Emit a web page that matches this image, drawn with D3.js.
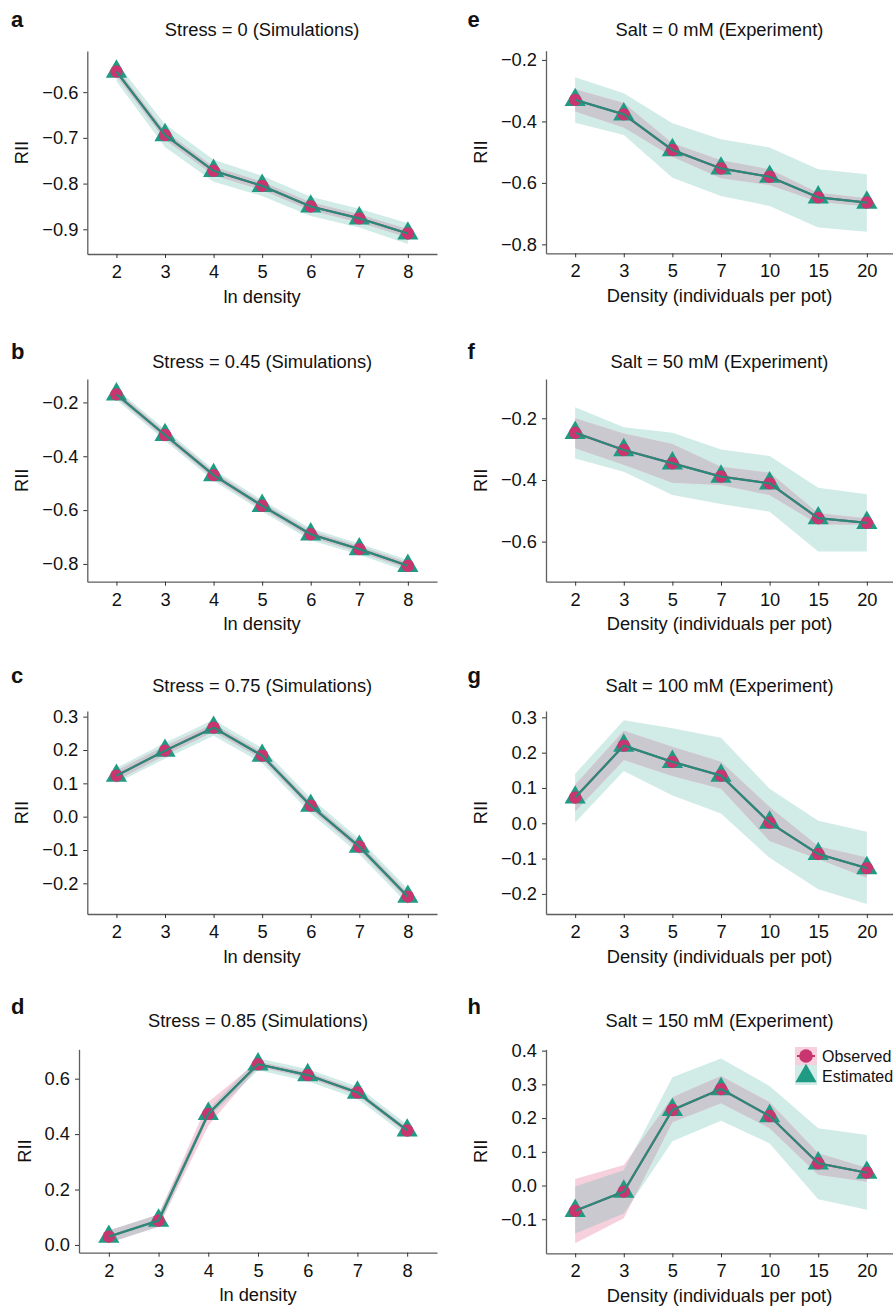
<!DOCTYPE html>
<html><head><meta charset="utf-8">
<script src="https://cdn.jsdelivr.net/npm/d3@7"></script>
<style>
body{margin:0;background:#fff}
svg{display:block}
text{font-family:"Liberation Sans",Arial,Helvetica,sans-serif;fill:#111}
</style>
</head><body>
<svg id="chart" width="893" height="1307"></svg>
<script>
// ---------- categories ----------
const simX = [2, 3, 4, 5, 6, 7, 8];
const expX = ["2", "3", "5", "7", "10", "15", "20"];

// ---------- panel a: Stress = 0 ----------
const aEst   = [-0.555, -0.694, -0.772, -0.805, -0.850, -0.876, -0.909];
const aEstLo = [-0.576, -0.720, -0.796, -0.827, -0.871, -0.896, -0.932];
const aEstHi = [-0.535, -0.670, -0.748, -0.783, -0.829, -0.855, -0.887];
const aObs   = [-0.555, -0.694, -0.772, -0.805, -0.850, -0.876, -0.909];
const aObsLo = [-0.565, -0.704, -0.782, -0.814, -0.859, -0.885, -0.918];
const aObsHi = [-0.546, -0.685, -0.763, -0.796, -0.841, -0.867, -0.900];

// ---------- panel b: Stress = 0.45 ----------
const bEst   = [-0.170, -0.321, -0.470, -0.584, -0.690, -0.745, -0.807];
const bEstLo = [-0.190, -0.342, -0.491, -0.605, -0.712, -0.766, -0.829];
const bEstHi = [-0.150, -0.300, -0.449, -0.563, -0.668, -0.724, -0.785];
const bObs   = [-0.170, -0.321, -0.470, -0.584, -0.690, -0.745, -0.807];
const bObsLo = [-0.182, -0.333, -0.482, -0.596, -0.702, -0.757, -0.819];
const bObsHi = [-0.158, -0.309, -0.458, -0.572, -0.678, -0.733, -0.795];

// ---------- panel c: Stress = 0.75 ----------
const cEst   = [0.123, 0.198, 0.267, 0.183, 0.033, -0.090, -0.240];
const cEstLo = [0.100, 0.174, 0.243, 0.160, 0.010, -0.113, -0.263];
const cEstHi = [0.146, 0.222, 0.291, 0.206, 0.056, -0.067, -0.217];
const cObs   = [0.123, 0.198, 0.267, 0.183, 0.033, -0.090, -0.240];
const cObsLo = [0.108, 0.184, 0.255, 0.172, 0.022, -0.101, -0.251];
const cObsHi = [0.138, 0.212, 0.279, 0.194, 0.044, -0.079, -0.229];

// ---------- panel d: Stress = 0.85 ----------
const dEst   = [0.030, 0.088, 0.473, 0.652, 0.613, 0.550, 0.413];
const dEstLo = [0.008, 0.066, 0.458, 0.630, 0.591, 0.528, 0.391];
const dEstHi = [0.052, 0.110, 0.488, 0.674, 0.635, 0.572, 0.435];
const dObs   = [0.030, 0.088, 0.473, 0.652, 0.613, 0.550, 0.413];
const dObsLo = [0.008, 0.066, 0.430, 0.642, 0.603, 0.540, 0.403];
const dObsHi = [0.052, 0.110, 0.516, 0.662, 0.623, 0.560, 0.423];

// ---------- panel e: Salt = 0 mM ----------
const eEst   = [-0.330, -0.377, -0.493, -0.553, -0.580, -0.647, -0.664];
const eEstLo = [-0.404, -0.444, -0.583, -0.643, -0.675, -0.745, -0.759];
const eEstHi = [-0.256, -0.308, -0.406, -0.458, -0.485, -0.556, -0.572];
const eObs   = [-0.330, -0.377, -0.493, -0.553, -0.580, -0.647, -0.664];
const eObsLo = [-0.368, -0.420, -0.515, -0.585, -0.607, -0.661, -0.677];
const eObsHi = [-0.295, -0.340, -0.471, -0.526, -0.556, -0.632, -0.650];

// ---------- panel f: Salt = 50 mM ----------
const fEst   = [-0.247, -0.303, -0.346, -0.389, -0.411, -0.524, -0.539];
const fEstLo = [-0.330, -0.373, -0.449, -0.478, -0.503, -0.632, -0.632];
const fEstHi = [-0.164, -0.229, -0.247, -0.301, -0.322, -0.425, -0.446];
const fObs   = [-0.247, -0.303, -0.346, -0.389, -0.411, -0.524, -0.539];
const fObsLo = [-0.297, -0.351, -0.409, -0.416, -0.449, -0.544, -0.546];
const fObsHi = [-0.200, -0.249, -0.283, -0.357, -0.376, -0.508, -0.524];

// ---------- panel g: Salt = 100 mM ----------
const gEst   = [0.073, 0.220, 0.174, 0.135, 0.002, -0.087, -0.127];
const gEstLo = [0.002, 0.148, 0.079, 0.028, -0.098, -0.187, -0.229];
const gEstHi = [0.140, 0.292, 0.269, 0.242, 0.098, 0.007, -0.024];
const gObs   = [0.073, 0.220, 0.174, 0.135, 0.002, -0.087, -0.127];
const gObsLo = [0.033, 0.179, 0.134, 0.098, -0.050, -0.101, -0.154];
const gObsHi = [0.109, 0.262, 0.217, 0.174, 0.046, -0.065, -0.097];

// ---------- panel h: Salt = 150 mM ----------
const hEst   = [-0.075, -0.018, 0.224, 0.286, 0.206, 0.066, 0.038];
const hEstLo = [-0.142, -0.083, 0.131, 0.192, 0.125, -0.041, -0.072];
const hEstHi = [-0.003, 0.045, 0.321, 0.377, 0.295, 0.170, 0.150];
const hObs   = [-0.075, -0.018, 0.224, 0.286, 0.206, 0.066, 0.038];
const hObsLo = [-0.171, -0.097, 0.188, 0.244, 0.170, 0.032, 0.011];
const hObsHi = [0.019, 0.061, 0.262, 0.325, 0.247, 0.096, 0.053];

// ---------- tick values ----------
const aTicks = [-0.9, -0.8, -0.7, -0.6];
const bTicks = [-0.8, -0.6, -0.4, -0.2];
const cTicks = [-0.2, -0.1, 0.0, 0.1, 0.2, 0.3];
const dTicks = [0.0, 0.2, 0.4, 0.6];
const eTicks = [-0.8, -0.6, -0.4, -0.2];
const fTicks = [-0.6, -0.4, -0.2];
const gTicks = [-0.2, -0.1, 0.0, 0.1, 0.2, 0.3];
const hTicks = [-0.1, 0.0, 0.1, 0.2, 0.3, 0.4];

const legendLabels = ["Observed", "Estimated"];

// ---------- styles ----------
const C = {
  estRibbon: "#d1ebe7",
  obsRibbon: "#f6d0dd",
  overlap:   "#c9c9cf",
  estLine:   "#2a8a7a",
  obsLine:   "#c9356f",
  tri:       "#1f9a83",
  dot:       "#c9356f",
  axis:      "#5e5e5e"
};
const FS = 18.3;

const panels = [
  {letter:"a", title:"Stress = 0 (Simulations)", type:"sim", xLab:"ln density",
   box:[87.3, 437, 51, 254], yDom:[-0.954, -0.510], ticks:aTicks, titleY:29.3, letterY:27,
   est:aEst, estLo:aEstLo, estHi:aEstHi, obs:aObs, obsLo:aObsLo, obsHi:aObsHi},
  {letter:"b", title:"Stress = 0.45 (Simulations)", type:"sim", xLab:"ln density",
   box:[87.3, 437, 379, 581.7], yDom:[-0.866, -0.113], ticks:bTicks, titleY:361, letterY:359,
   est:bEst, estLo:bEstLo, estHi:bEstHi, obs:bObs, obsLo:bObsLo, obsHi:bObsHi},
  {letter:"c", title:"Stress = 0.75 (Simulations)", type:"sim", xLab:"ln density",
   box:[87.3, 437, 711, 914], yDom:[-0.292, 0.317], ticks:cTicks, titleY:685, letterY:683,
   est:cEst, estLo:cEstLo, estHi:cEstHi, obs:cObs, obsLo:cObsLo, obsHi:cObsHi},
  {letter:"d", title:"Stress = 0.85 (Simulations)", type:"sim", xLab:"ln density",
   box:[79, 437, 1049.3, 1252.7], yDom:[-0.028, 0.706], ticks:dTicks, titleY:1020.7, letterY:1014,
   est:dEst, estLo:dEstLo, estHi:dEstHi, obs:dObs, obsLo:dObsLo, obsHi:dObsHi},
  {letter:"e", title:"Salt = 0 mM (Experiment)", type:"exp", xLab:"Density (individuals per pot)",
   box:[546, 896, 50.7, 253.3], yDom:[-0.829, -0.170], ticks:eTicks, titleY:29.3, letterY:27,
   est:eEst, estLo:eEstLo, estHi:eEstHi, obs:eObs, obsLo:eObsLo, obsHi:eObsHi},
  {letter:"f", title:"Salt = 50 mM (Experiment)", type:"exp", xLab:"Density (individuals per pot)",
   box:[546, 896, 379, 581.7], yDom:[-0.730, -0.0725], ticks:fTicks, titleY:361, letterY:358.5,
   est:fEst, estLo:fEstLo, estHi:fEstHi, obs:fObs, obsLo:fObsLo, obsHi:fObsHi},
  {letter:"g", title:"Salt = 100 mM (Experiment)", type:"exp", xLab:"Density (individuals per pot)",
   box:[546, 896, 711, 914], yDom:[-0.257, 0.318], ticks:gTicks, titleY:685, letterY:683,
   est:gEst, estLo:gEstLo, estHi:gEstHi, obs:gObs, obsLo:gObsLo, obsHi:gObsHi},
  {letter:"h", title:"Salt = 150 mM (Experiment)", type:"exp", xLab:"Density (individuals per pot)",
   box:[546, 896, 1049.3, 1253.3], yDom:[-0.201, 0.404], ticks:hTicks, titleY:1020.7, letterY:1014,
   est:hEst, estLo:hEstLo, estHi:hEstHi, obs:hObs, obsLo:hObsLo, obsHi:hObsHi, legend:true}
];

const svg = d3.select("#chart");
const defs = svg.append("defs");
const triSym = d3.symbol().type(d3.symbolTriangle).size(195);

panels.forEach((p, pi) => {
  const [x0, x1, y0, y1] = p.box;
  const g = svg.append("g");
  const cats = p.type === "sim" ? simX : expX;
  const x = p.type === "sim"
    ? d3.scaleLinear().domain([1.4, 8.6]).range([x0, x1])
    : d3.scalePoint().domain(expX).range([x0, x1]).padding(0.6);
  const y = d3.scaleLinear().domain(p.yDom).range([y1, y0]);

  const rows = cats.map((c, i) => ({
    x: x(c), est: p.est[i], estLo: p.estLo[i], estHi: p.estHi[i],
    obs: p.obs[i], obsLo: p.obsLo[i], obsHi: p.obsHi[i]
  }));

  const areaEst = d3.area().x(d => d.x).y0(d => y(d.estLo)).y1(d => y(d.estHi));
  const areaObs = d3.area().x(d => d.x).y0(d => y(d.obsLo)).y1(d => y(d.obsHi));
  const lineEst = d3.line().x(d => d.x).y(d => y(d.est));
  const lineObs = d3.line().x(d => d.x).y(d => y(d.obs));

  const clipId = "clipEst" + pi;
  defs.append("clipPath").attr("id", clipId).append("path").attr("d", areaEst(rows));

  // axes
  const yAxis = d3.axisLeft(y).tickValues(p.ticks).tickFormat(d3.format(".1f"))
    .tickSize(4).tickSizeOuter(0).tickPadding(5);
  const xAxis = (p.type === "sim" ? d3.axisBottom(x).tickValues(simX).tickFormat(d3.format("d"))
                                   : d3.axisBottom(x))
    .tickSize(4).tickSizeOuter(0).tickPadding(7);

  const ya = g.append("g").attr("transform", `translate(${x0},0)`).call(yAxis);
  const xa = g.append("g").attr("transform", `translate(0,${y1})`).call(xAxis);
  [ya, xa].forEach(a => {
    a.select(".domain").attr("stroke", C.axis).attr("stroke-width", 1.3);
    a.selectAll(".tick line").attr("stroke", "#333").attr("stroke-width", 1);
    a.selectAll(".tick text").attr("fill", "#111").style("font-size", FS + "px")
      .style("font-family", '"Liberation Sans",Arial,Helvetica,sans-serif');
  });
  let maxW = 0;
  ya.selectAll(".tick text").each(function () { maxW = Math.max(maxW, this.getComputedTextLength()); });

  // ribbons
  g.append("path").attr("d", areaEst(rows)).attr("fill", C.estRibbon);
  g.append("path").attr("d", areaObs(rows)).attr("fill", C.obsRibbon);
  g.append("path").attr("d", areaObs(rows)).attr("fill", C.overlap).attr("clip-path", `url(#${clipId})`);

  // points
  g.selectAll(".tri").data(rows).join("path")
    .attr("transform", d => `translate(${d.x},${y(d.est)})`)
    .attr("d", triSym).attr("fill", C.tri);
  g.selectAll(".dot").data(rows).join("circle")
    .attr("cx", d => d.x).attr("cy", d => y(d.obs)).attr("r", 6.2).attr("fill", C.dot);

  // lines
  g.append("path").attr("d", lineObs(rows)).attr("fill", "none")
    .attr("stroke", C.obsLine).attr("stroke-width", 2);
  g.append("path").attr("d", lineEst(rows)).attr("fill", "none")
    .attr("stroke", C.estLine).attr("stroke-width", 2.2);

  // texts
  const cx = p.type === "sim" ? (x0 + x1) / 2 : (x0 + 893) / 2;
  g.append("text").attr("x", cx).attr("y", p.titleY + FS * 0.36)
    .attr("text-anchor", "middle").style("font-size", FS + "px").text(p.title);
  g.append("text").attr("x", cx).attr("y", y1 + 42 + FS * 0.36)
    .attr("text-anchor", "middle").style("font-size", FS + "px").text(p.xLab);
  g.append("text").attr("transform", `translate(${x0 - 9 - maxW - 20.5},${(y0 + y1) / 2}) rotate(-90)`)
    .attr("text-anchor", "middle").attr("dy", "0.36em").style("font-size", FS + "px").text("RII");
  g.append("text").attr("x", p.type === "sim" ? 11 : 467.5).attr("y", p.letterY)
    .style("font-size", "22px").style("font-weight", "bold").text(p.letter);

  if (p.legend) {
    const lx = 795, kw = 22;
    const keys = [
      {lab: legendLabels[0], fill: C.obsRibbon, y: 1047, h: 18},
      {lab: legendLabels[1], fill: C.estRibbon, y: 1065, h: 20}
    ];
    const lg = g.append("g");
    keys.forEach(k => lg.append("rect").attr("x", lx).attr("y", k.y).attr("width", kw).attr("height", k.h).attr("fill", k.fill));
    const c0 = keys[0].y + keys[0].h / 2, c1 = keys[1].y + keys[1].h / 2 + 1;
    lg.append("line").attr("x1", lx + 2).attr("x2", lx + kw - 2).attr("y1", c0).attr("y2", c0)
      .attr("stroke", C.obsLine).attr("stroke-width", 2);
    lg.append("circle").attr("cx", lx + kw / 2).attr("cy", c0).attr("r", 6.8).attr("fill", C.dot);
    lg.append("path").attr("transform", `translate(${lx + kw / 2},${c1})`).attr("d", triSym).attr("fill", C.tri);
    keys.forEach((k, i) => lg.append("text").attr("x", 822).attr("y", (i === 0 ? c0 : c1) + 16 * 0.36)
      .style("font-size", "16px").text(k.lab));
  }
});
</script>
</body></html>
